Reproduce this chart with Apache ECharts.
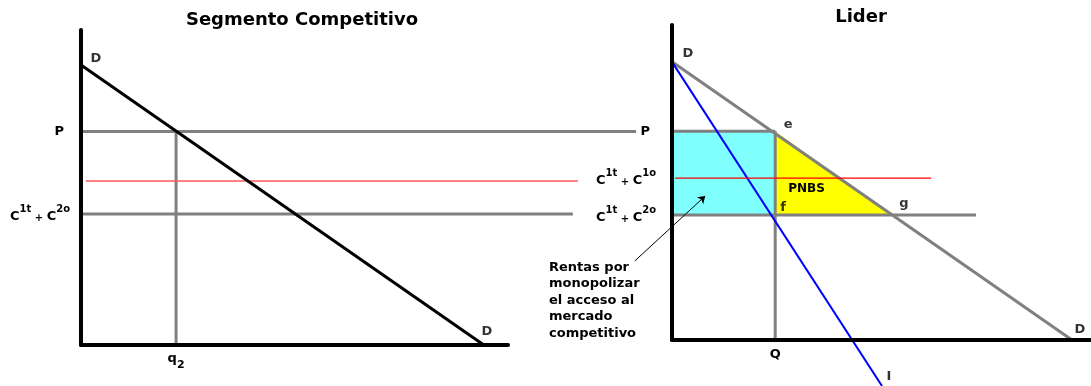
<!DOCTYPE html>
<html><head><meta charset="utf-8">
<script src="https://cdn.jsdelivr.net/npm/echarts@6/dist/echarts.min.js"></script>
<style>html,body{margin:0;padding:0;background:#fff}#c{width:1091px;height:386px}</style>
</head><body><div id="c"></div>
<script>
// ---------- Left panel: Segmento Competitivo ----------
const leftDemand    = [[0, 8.89], [10, 0]];
const leftPriceLine = [[0, 6.78], [13.78, 6.78]];
const leftRedCost   = [[0.12, 5.21], [12.34, 5.21]];
const leftC2oCost   = [[0, 4.16], [12.21, 4.16]];
const leftQ2Line    = [[2.36, 0], [2.36, 6.78]];
const leftYTicks      = [6.78, 4.16];
const leftYTickLabels = ['P', 'C1t + C2o'];
const leftXTicks      = [2.36];
const leftXTickLabels = ['q2'];
const leftPointNames  = ['D', 'D'];           // at the two ends of the demand line

// ---------- Right panel: Lider ----------
const rightDemand    = [[0, 8.83], [10, 0]];
const rightMarginal  = [[0, 8.83], [5.25, -1.46]];
const rightPriceLine = [[0, 6.63], [2.58, 6.63]];
const rightRedCost   = [[0.08, 5.14], [6.48, 5.14]];
const rightC2oCost   = [[0, 3.97], [7.6, 3.97]];
const rightQLine     = [[2.58, 0], [2.58, 6.63]];
const rentsArea      = [[0, 6.63], [2.58, 6.63], [2.58, 3.97], [0, 3.97]];
const pnbsArea       = [[2.58, 6.63], [2.58, 3.97], [5.5, 3.97]];
const arrowLine      = [[-0.93, 2.51], [0.83, 4.57]];
const rightYTicks      = [6.63, 5.14, 3.97];
const rightYTickLabels = ['P', 'C1t + C1o', 'C1t + C2o'];
const rightXTicks      = [2.58];
const rightXTickLabels = ['Q'];
const rightPointNames  = ['D', 'D', 'e', 'f', 'g', 'I'];
const pnbsText   = 'PNBS';
const rentasText = 'Rentas por\nmonopolizar\nel acceso al\nmercado\ncompetitivo';
const titles = ['Segmento Competitivo', 'Lider'];

const FONT = 'DejaVu Sans';
const GRAY = '#808080';

function richLabel(t) {
  if (t === 'P') return '{pp|P}';
  if (/^q\d$/.test(t)) return '{q|q}{sub|' + t.slice(1) + '}';
  if (t === 'Q') return '{qq|Q}';
  return t.replace(/C(\w+)/g, '{b|C}{s|$1}').replace(' + ', '{p| + }');
}
const rich = {
  b:  {fontFamily: FONT, fontWeight: 'bold', fontSize: 13, color: '#000', verticalAlign: 'bottom', lineHeight: 19},
  s:  {fontFamily: FONT, fontWeight: 'bold', fontSize: 10, color: '#000', verticalAlign: 'top'},
  p:  {fontFamily: FONT, fontWeight: 'bold', fontSize: 10, color: '#000', verticalAlign: 'bottom'},
  pp: {fontFamily: FONT, fontWeight: 'bold', fontSize: 13, color: '#000', padding: [0, 6, 0, 0]},
  q:  {fontFamily: FONT, fontWeight: 'bold', fontSize: 13, color: '#000', verticalAlign: 'top', lineHeight: 19},
  sub:{fontFamily: FONT, fontWeight: 'bold', fontSize: 11, color: '#000', verticalAlign: 'bottom'},
  qq: {fontFamily: FONT, fontWeight: 'bold', fontSize: 13, color: '#000'}
};
function mapper(ticks, labels) {
  return function (v) { const i = ticks.findIndex(t => Math.abs(t - v) < 1e-9); return i < 0 ? '' : richLabel(labels[i]); };
}
function axis(gridIndex, min, max, ticks, labels, margin, showLine) {
  return {
    gridIndex, type: 'value', min, max, z: 5,
    axisLine: {show: showLine !== false, onZero: false, lineStyle: {color: '#000', width: 4}},
    axisTick: {show: false}, splitLine: {show: false},
    axisLabel: ticks ? {customValues: ticks, formatter: mapper(ticks, labels), margin, rich} : {show: false}
  };
}
function line(gi, data, color, width, z) {
  return {type: 'line', xAxisIndex: gi, yAxisIndex: gi, data, symbol: 'none', clip: false, silent: true,
          z: z || 2, lineStyle: {color, width, cap: 'butt'}};
}
const ptLabel = {show: true, position: 'inside', fontFamily: FONT, fontWeight: 'bold', fontSize: 13, color: '#000'};
function labelPoint(pt, text, offset) {
  return {value: pt, label: Object.assign({}, ptLabel, {formatter: text, offset})};
}

// left panel: data grid is wider (lines run out to the labels); the x-axis line only spans the narrow grid
const LEFT_PX_PER_UNIT = 427 / 10.6;
const leftWideMax = 559 / LEFT_PX_PER_UNIT;

const option = {
  animation: false,
  backgroundColor: '#fff',
  grid: [
    {left: 81, top: 30, width: 559, height: 315},
    {left: 672, top: 25, width: 419, height: 315},
    {left: 81, top: 30, width: 427, height: 315}
  ],
  xAxis: [
    axis(0, 0, leftWideMax, null, null, 0, false),
    axis(1, 0, 10.475, rightXTicks, rightXTickLabels, 8),
    axis(2, 0, 10.6, leftXTicks, leftXTickLabels, 7)
  ],
  yAxis: [
    axis(0, 0, 10, leftYTicks, leftYTickLabels, 11),
    axis(1, 0, 10, rightYTicks, rightYTickLabels, 16),
    axis(2, 0, 10, null, null, 0, false)
  ],
  graphic: [
    {type: 'text', x: 302, y: 20, style: {text: titles[0], font: 'bold 18px ' + FONT, fill: '#000', align: 'center', verticalAlign: 'middle'}},
    {type: 'text', x: 861, y: 17, style: {text: titles[1], font: 'bold 18px ' + FONT, fill: '#000', align: 'center', verticalAlign: 'middle'}},
    {type: 'text', x: 549, y: 259, style: {text: rentasText, font: 'bold 13px ' + FONT, fill: '#000', lineHeight: 16.5, align: 'left', verticalAlign: 'top'}}
  ],
  series: [
    // fills
    {type: 'custom', xAxisIndex: 1, yAxisIndex: 1, data: [[0, 0]], z: 1, silent: true, clip: false,
     renderItem: (p, api) => ({type: 'polygon', shape: {points: rentsArea.map(pt => api.coord(pt))}, style: {fill: '#80ffff'}})},
    {type: 'custom', xAxisIndex: 1, yAxisIndex: 1, data: [[0, 0]], z: 1, silent: true, clip: false,
     renderItem: (p, api) => ({type: 'polygon', shape: {points: pnbsArea.map(pt => api.coord(pt))}, style: {fill: '#ffff00'},
       textContent: {style: {text: pnbsText, font: 'bold 12px ' + FONT, fill: '#000'}},
       textConfig: {position: 'inside', offset: [-27, 16]}})},
    // left panel
    line(0, leftPriceLine, GRAY, 3),
    line(0, leftC2oCost, GRAY, 3),
    line(0, leftQ2Line, GRAY, 3),
    line(0, leftRedCost, '#ff5a5a', 1.5),
    line(0, leftDemand, '#000', 3, 3),
    // right panel
    line(1, rightPriceLine, GRAY, 3),
    line(1, rightC2oCost, GRAY, 3),
    line(1, rightQLine, GRAY, 3),
    line(1, rightDemand, GRAY, 3),
    line(1, rightMarginal, '#0000ff', 2, 3),
    line(1, rightRedCost, '#ff0000', 1.2, 4),
    {type: 'lines', coordinateSystem: 'cartesian2d', xAxisIndex: 1, yAxisIndex: 1, clip: false, silent: true, z: 4,
     symbol: ['none', 'arrow'], symbolSize: 7,
     lineStyle: {color: '#000', width: 1, opacity: 1, curveness: 0},
     data: [{coords: arrowLine}]},
    // point labels
    {type: 'scatter', xAxisIndex: 0, yAxisIndex: 0, symbolSize: 1, clip: false, silent: true, z: 6,
     itemStyle: {color: 'transparent'},
     data: [labelPoint(leftDemand[0], leftPointNames[0], [15, -6]), labelPoint(leftDemand[1], leftPointNames[1], [3, -13])]},
    {type: 'scatter', xAxisIndex: 1, yAxisIndex: 1, symbolSize: 1, clip: false, silent: true, z: 6,
     itemStyle: {color: 'transparent'},
     data: [
       labelPoint(rightDemand[0], rightPointNames[0], [16, -8]),
       labelPoint(rightDemand[1], rightPointNames[1], [8, -10]),
       labelPoint(rightPriceLine[1], rightPointNames[2], [13, -7]),
       labelPoint([rightQLine[0][0], rightC2oCost[0][1]], rightPointNames[3], [8, -7]),
       labelPoint(pnbsArea[2], rightPointNames[4], [12, -11]),
       labelPoint(rightMarginal[1], rightPointNames[5], [7, -9])
     ]}
  ]
};
const chart = echarts.init(document.getElementById('c'), null, {renderer: 'canvas'});
chart.setOption(option);
</script>
</body></html>
